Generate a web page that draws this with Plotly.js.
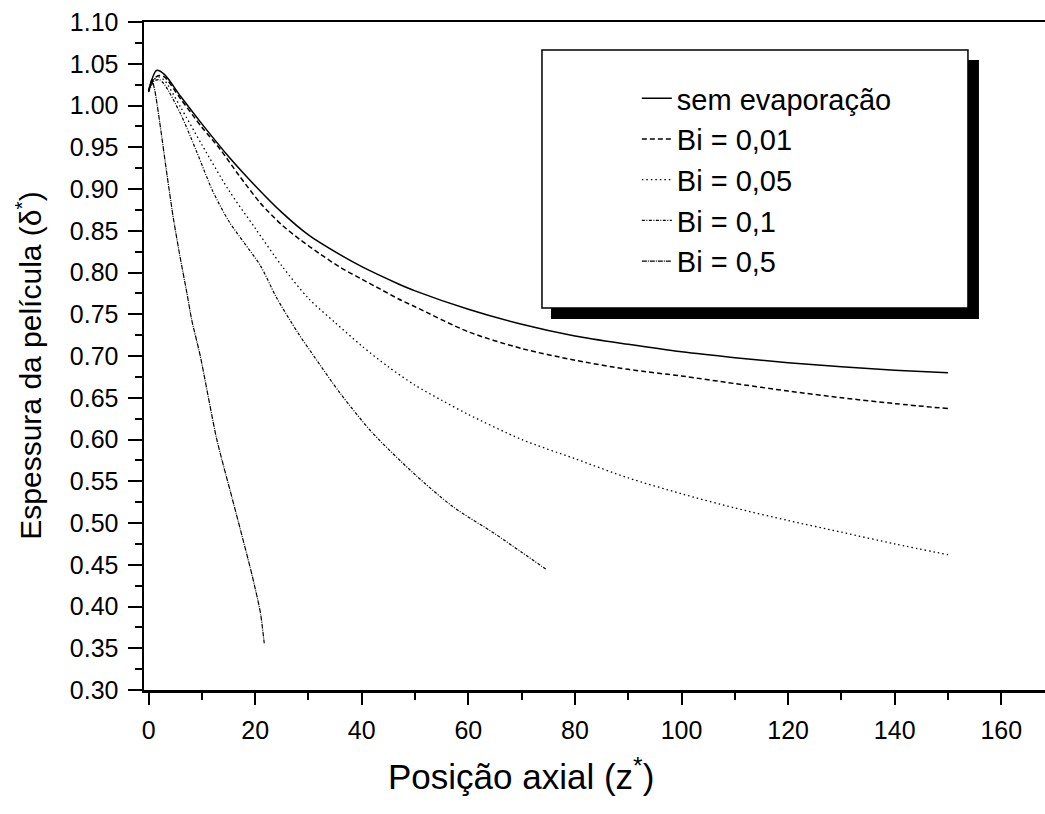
<!DOCTYPE html>
<html>
<head>
<meta charset="utf-8">
<script src="https://cdn.plot.ly/plotly-3.0.1.min.js"></script>
<style>html,body{margin:0;padding:0;background:#fff;}#chart{width:1045px;height:814px;}</style>
</head>
<body>
<div id="chart"></div>
<script>
// Series names
const seriesNames = ["sem evaporação", "Bi = 0,01", "Bi = 0,05", "Bi = 0,1", "Bi = 0,5"];

// sem evaporação
const zSem = [0, 1.5, 3, 6, 10, 15, 20, 25, 30, 36, 40, 47, 50, 60, 70, 80, 90, 100, 110, 120, 130, 140, 150];
const dSem = [1.018, 1.042, 1.037, 1.011, 0.978, 0.939, 0.904, 0.872, 0.845, 0.821, 0.807, 0.786, 0.778, 0.756, 0.738, 0.724, 0.714, 0.705, 0.698, 0.692, 0.687, 0.683, 0.680];

// Bi = 0,01
const zBi001 = [0, 1, 2, 3, 6, 10, 13.5, 17, 21, 25, 28.5, 32, 36, 40, 43.5, 47, 50, 60, 70, 80, 90, 100, 110, 120, 130, 140, 150];
const dBi001 = [1.017, 1.032, 1.036, 1.034, 1.008, 0.974, 0.947, 0.916, 0.883, 0.857, 0.839, 0.823, 0.806, 0.792, 0.780, 0.768, 0.759, 0.729, 0.709, 0.695, 0.684, 0.676, 0.667, 0.658, 0.650, 0.643, 0.637];

// Bi = 0,05
const zBi005 = [0, 1, 2, 3, 6, 10, 15, 20, 25, 30, 35, 40, 45, 50, 55, 60, 70, 80, 90, 100, 110, 120, 130, 140, 150];
const dBi005 = [1.017, 1.031, 1.034, 1.030, 0.998, 0.953, 0.899, 0.853, 0.808, 0.769, 0.740, 0.712, 0.687, 0.665, 0.647, 0.630, 0.600, 0.577, 0.554, 0.535, 0.518, 0.503, 0.489, 0.475, 0.462];

// Bi = 0,1
const zBi01 = [0, 1, 2, 3, 6, 9, 12, 15, 18, 21, 24, 28, 31, 36, 42, 50, 57, 65, 70, 74.7];
const dBi01 = [1.016, 1.029, 1.031, 1.025, 0.990, 0.945, 0.898, 0.862, 0.835, 0.808, 0.770, 0.728, 0.700, 0.655, 0.608, 0.558, 0.520, 0.487, 0.465, 0.444];

// Bi = 0,5
const zBi05 = [0, 0.6, 1.2, 2.2, 3.5, 4.7, 5.9, 7.2, 8.1, 9.7, 12.8, 16, 19.4, 21, 21.7];
const dBi05 = [1.017, 1.031, 1.017, 0.975, 0.915, 0.863, 0.819, 0.775, 0.743, 0.700, 0.600, 0.522, 0.438, 0.392, 0.356];

// Axis texts
const xTitle = "Posição axial (z<sup>*</sup>)";
const yTitle = "Espessura da película (δ<sup>*</sup>)";

const FONT = "Liberation Sans, Arial, sans-serif";

const traces = [
  {x: zSem, y: dSem, name: seriesNames[0], mode: "lines", line: {color: "#000", width: 1.5, dash: "solid", shape: "spline", smoothing: 0.8}},
  {x: zBi001, y: dBi001, name: seriesNames[1], mode: "lines", line: {color: "#000", width: 1.5, dash: "5px,3px", shape: "spline", smoothing: 0.8}},
  {x: zBi005, y: dBi005, name: seriesNames[2], mode: "lines", line: {color: "#000", width: 1.3, dash: "1.5px,3px", shape: "spline", smoothing: 0.8}},
  {x: zBi01, y: dBi01, name: seriesNames[3], mode: "lines", line: {color: "#000", width: 1.2, dash: "3px,1.5px,1px,1.5px", shape: "spline", smoothing: 0.8}},
  {x: zBi05, y: dBi05, name: seriesNames[4], mode: "lines", line: {color: "#000", width: 1.2, dash: "5px,1px,1px,1px", shape: "spline", smoothing: 0.6}}
];

const layout = {
  width: 1045, height: 814,
  margin: {l: 144, r: 0, t: 22, b: 124},
  paper_bgcolor: "#fff", plot_bgcolor: "#fff",
  font: {family: FONT, color: "#000", size: 25},
  showlegend: true,
  legend: {
    x: 0.547, y: 0.9237, xanchor: "left", yanchor: "top",
    bgcolor: "rgba(0,0,0,0)", borderwidth: 0,
    font: {family: FONT, size: 29, color: "#000"},
    tracegroupgap: 0
  },
  xaxis: {
    range: [-0.86, 168.2],
    showgrid: false, zeroline: false,
    showline: true, linecolor: "#000", linewidth: 2.5, mirror: true,
    ticks: "outside", ticklen: 12, tickwidth: 2, tickcolor: "#000",
    tick0: 0, dtick: 20,
    minor: {ticks: "outside", ticklen: 7, tickwidth: 2, tickcolor: "#000", dtick: 10, showgrid: false},
    ticklabelstandoff: 4,
    tickfont: {family: FONT, size: 25, color: "#000"}
  },
  yaxis: {
    range: [0.30, 1.10],
    showgrid: false, zeroline: false,
    showline: true, linecolor: "#000", linewidth: 2.5, mirror: false,
    ticks: "outside", ticklen: 14, tickwidth: 2, tickcolor: "#000",
    tick0: 0.30, dtick: 0.05, tickformat: ".2f",
    minor: {ticks: "outside", ticklen: 7, tickwidth: 2, tickcolor: "#000", dtick: 0.025, showgrid: false},
    ticklabelstandoff: 4,
    tickfont: {family: FONT, size: 25, color: "#000"}
  },
  shapes: [
    {type: "rect", xref: "paper", yref: "paper", x0: 0.4517, x1: 0.9267, y0: 0.5554, y1: 0.9431,
     fillcolor: "#000", line: {width: 0}, layer: "above"},
    {type: "rect", xref: "paper", yref: "paper", x0: 0.4417, x1: 0.9145, y0: 0.5719, y1: 0.9581,
     fillcolor: "#fff", line: {color: "#000", width: 1.5}, layer: "above"}
  ],
  annotations: [
    {text: xTitle, xref: "paper", yref: "paper", x: 0.4184, y: -0.125, xanchor: "center", yanchor: "middle",
     showarrow: false, font: {family: FONT, size: 35, color: "#000"}},
    {text: yTitle, xref: "paper", yref: "paper", x: -0.128, y: 0.485, xanchor: "center", yanchor: "middle",
     textangle: -90, showarrow: false, font: {family: FONT, size: 30, color: "#000"}}
  ]
};

Plotly.newPlot("chart", traces, layout, {displayModeBar: false, staticPlot: true});
</script>
</body>
</html>
